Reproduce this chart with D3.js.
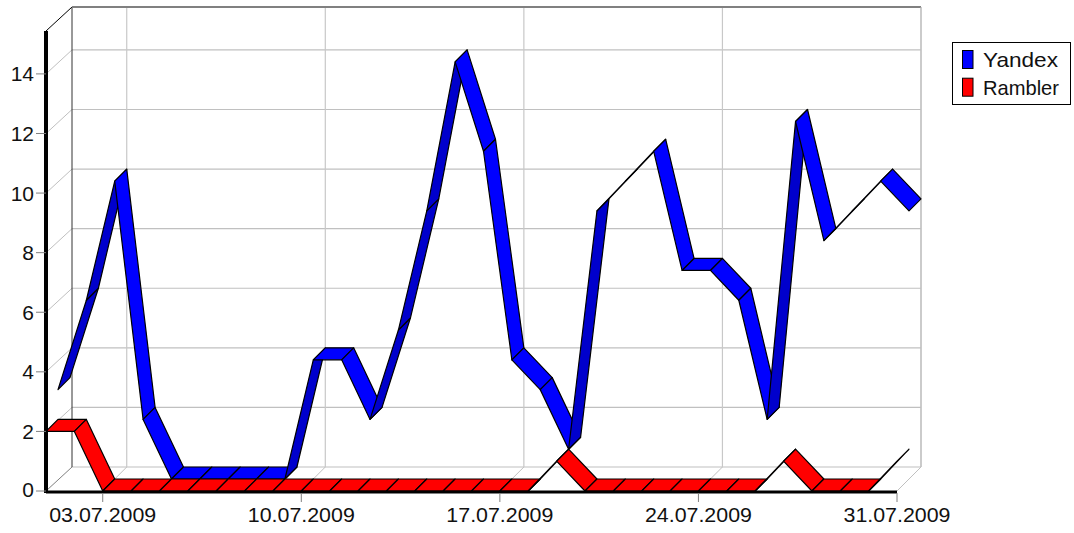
<!DOCTYPE html>
<html><head><meta charset="utf-8">
<script src="https://cdn.jsdelivr.net/npm/d3@7/dist/d3.min.js"></script>
<style>html,body{margin:0;padding:0;background:#fff}svg{display:block}text{font-family:"Liberation Sans",Arial,sans-serif;fill:#111}</style>
</head><body><div id="chart"></div>
<script>
const days = d3.range(1, 32);
const dateLabels = ["03.07.2009","10.07.2009","17.07.2009","24.07.2009","31.07.2009"];
const labelDays = [3,10,17,24,31];
const yTicks = [0,2,4,6,8,10,12,14];
const yandex = [3,6,10,2,0,0,0,0,0,4,4,2,5,9,14,11,4,3,1,9,10,11,7,7,6,2,12,8,9,10,9];
const rambler = [2,2,0,0,0,0,0,0,0,0,0,0,0,0,0,0,0,0,1,0,0,0,0,0,0,0,1,0,0,0,1];
const seriesNames = ["Yandex","Rambler"];
const seriesColors = ["#0000ff","#ff0000"];
const seriesDark = ["#0000cc","#cc0000"];

const W=1074,H=533;
const x=d3.scaleLinear().domain([1,31]).range([46,897]);
const y=d3.scaleLinear().domain([0,15.44]).range([491,31]);
const D=24, step=12;
const svg=d3.select("#chart").append("svg").attr("width",W).attr("height",H);
const wallL=x(1)+26, wallR=x(31)+D, wallB=y(0)-D, wallT=y.range()[1]-D;
const ln=(a,b,c,d,col,w)=>svg.append("line").attr("x1",a).attr("y1",b).attr("x2",c).attr("y2",d).attr("stroke",col).attr("stroke-width",w);

// back wall grid
yTicks.slice(1).forEach(t=>ln(wallL,y(t)-D,wallR,y(t)-D,"#c0c0c0",1.2));
ln(wallL,wallB,wallR,wallB,"#c0c0c0",1.2);
labelDays.forEach(d=>{ln(x(d)+D,wallT,x(d)+D,wallB,"#c8c8c8",1.2);ln(x(d),y(0),x(d)+D,wallB,"#c0c0c0",1);});
// side wall diagonals
yTicks.forEach(t=>ln(x(1),y(t),wallL,y(t)-D,t===0?"#808080":"#c0c0c0",1));
ln(x(1),y.range()[1],wallL,wallT,"#000",1);
ln(wallL,wallT,wallL,wallB,"#333",1);
ln(wallL,wallT,wallR,wallT,"#808080",2);
ln(wallR,wallT,wallR,wallB,"#b8b8b8",1);

// ribbons, painted from left to right
const path=d3.line();
function ribbon(vals,i,z0){
  const off=z0*step;
  const g=svg.append("g");
  const quads=d3.pairs(vals.map((v,k)=>[x(days[k])+off,y(v)-off]));
  const q=quads.map(([a,b])=>[a,b,[b[0]+step,b[1]-step],[a[0]+step,a[1]-step]]);
  const rising=([a,b])=>b[1]<a[1];
  g.selectAll("path").data(q).join("path")
    .attr("d",p=>path(p)+"Z")
    .attr("fill",p=>rising(p)?seriesDark[i]:seriesColors[i])
    .attr("stroke","#000").attr("stroke-width",1.2).attr("stroke-linejoin","round");
}
ribbon(yandex,0,1);
ribbon(rambler,1,0);

// front axes
ln(x(1),y.range()[1],x(1),y(0)+2,"#000",4);
ln(x(1),y(0)+1,x(31),y(0)+1,"#000",3);
yTicks.forEach(t=>{
  ln(x(1)-10,y(t),x(1),y(t),"#808080",1);
  svg.append("text").attr("x",34).attr("y",Math.min(y(t)+7.5,496.5)).attr("text-anchor","end").attr("font-size",21).text(t);
});
labelDays.forEach((d,i)=>{
  ln(x(d),y(0)+2,x(d),y(0)+11,"#808080",1);
  svg.append("text").attr("x",x(d)).attr("y",522).attr("text-anchor","middle").attr("font-size",21)
    .attr("textLength",107).attr("lengthAdjust","spacingAndGlyphs").text(dateLabels[i]);
});

// legend
const legendWidths=[75,76];
svg.append("rect").attr("x",952.5).attr("y",42.5).attr("width",118).attr("height",62).attr("fill","#fff").attr("stroke","#000").attr("stroke-width",1);
seriesNames.forEach((n,i)=>{
  svg.append("rect").attr("x",962.5).attr("y",50.5+i*27.7).attr("width",10.5).attr("height",18).attr("fill",seriesColors[i]).attr("stroke","#000").attr("stroke-width",1);
  svg.append("text").attr("x",983).attr("y",67+i*27.7).attr("font-size",21)
    .attr("textLength",legendWidths[i]).attr("lengthAdjust","spacingAndGlyphs").text(n);
});
</script></body></html>
